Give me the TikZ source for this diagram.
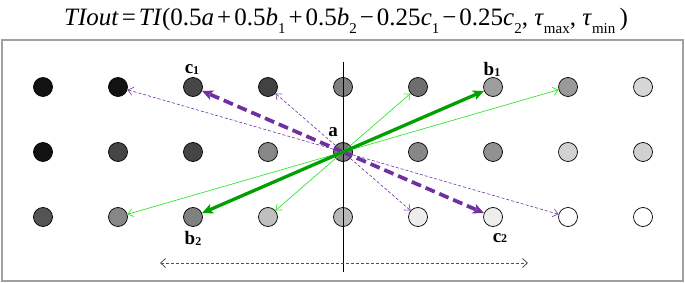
\documentclass[tikz,border=0pt]{standalone}
\usepackage{fontspec}
\setmainfont{Liberation Serif}
\usetikzlibrary{arrows.meta}
\definecolor{gthick}{RGB}{0,160,0}
\definecolor{gthin}{RGB}{50,230,50}
\definecolor{purp}{RGB}{112,48,160}
\definecolor{framegray}{RGB}{160,160,160}
\definecolor{axgray}{RGB}{80,80,80}
\newcommand\sbs[1]{\raisebox{-0.3em}{\fontsize{15}{15}\selectfont #1}}
\newcommand\lsb[1]{\raisebox{-0.05em}{\fontsize{12}{12}\selectfont\bfseries #1}}
\newcommand\opsp{\hspace{0.12em}}
\tikzset{
  dot/.style={circle, draw=black, line width=0.7pt, minimum size=19pt, inner sep=0pt, fill=black!#1},
  lbl/.style={font=\fontsize{19}{21}\selectfont\bfseries, inner sep=0pt},
  gbig/.style={draw=gthick, line width=3.3pt, -{Stealth[length=11pt,width=10pt,inset=3pt]}},
  gsmall/.style={draw=gthin, line width=0.7pt, -{Straight Barb[length=5pt,width=8pt]}},
  pbig/.style={draw=purp, line width=3.7pt, dash pattern=on 10pt off 5pt, -{Stealth[length=11pt,width=10pt,inset=3pt]}},
  psmall/.style={draw=purp, line width=0.6pt, dash pattern=on 3pt off 2pt, -{Straight Barb[length=5pt,width=8pt]}},
  axis/.style={draw=axgray, line width=0.8pt, dash pattern=on 3pt off 2pt, {Straight Barb[length=5pt,width=9pt]}-{Straight Barb[length=5pt,width=9pt]}}
}
\begin{document}
\begin{tikzpicture}[x=1pt,y=-1pt]
\useasboundingbox (0,0) rectangle (685,283);
\draw[framegray, line width=1.5pt] (2,40) rectangle (683,281);
\node[font=\fontsize{25}{29}\selectfont, inner sep=0pt, anchor=base] (eq) at (346,26)
 {\textit{TIout}\opsp=\opsp\textit{TI}(0.5\textit{a}\opsp+\opsp0.5\textit{b}\sbs{1}\opsp+\opsp0.5\textit{b}\sbs{2}\opsp−\opsp0.25\textit{c}\sbs{1}\opsp−\opsp0.25\textit{c}\sbs{2}, \textit{τ}\sbs{max}, \textit{τ}\sbs{min}\,)};
% vertical line
\coordinate (vtop) at (343,62);
\coordinate (vbot) at (343,272);
% row 1
\node[dot=93] (n11) at (43,87) {};
\node[dot=93] (n12) at (118,87) {};
\node[dot=72] (n13) at (193,87) {};
\node[dot=74] (n14) at (268,87) {};
\node[dot=50] (n15) at (343,87) {};
\node[dot=57] (n16) at (418,87) {};
\node[dot=38] (n17) at (493,87) {};
\node[dot=40] (n18) at (568,87) {};
\node[dot=16] (n19) at (643,87) {};
% row 2
\node[dot=93] (n21) at (43,152) {};
\node[dot=73] (n22) at (118,152) {};
\node[dot=73] (n23) at (193,152) {};
\node[dot=47] (n24) at (268,152) {};
\node[dot=53] (a) at (343,152) {};
\node[dot=47] (n26) at (418,152) {};
\node[dot=43] (n27) at (493,152) {};
\node[dot=18] (n28) at (568,152) {};
\node[dot=18] (n29) at (643,152) {};
% row 3
\node[dot=67] (n31) at (43,217) {};
\node[dot=47] (n32) at (118,217) {};
\node[dot=50] (n33) at (193,217) {};
\node[dot=25] (n34) at (268,217) {};
\node[dot=28] (n35) at (343,217) {};
\node[dot=7] (n36) at (418,217) {};
\node[dot=7] (n37) at (493,217) {};
\node[dot=0] (n38) at (568,217) {};
\node[dot=0] (n39) at (643,217) {};
\draw[black, line width=0.8pt] (vtop) -- (vbot);
% labels
\node[lbl] (lc1) at (192,70) {c\lsb{1}};
\node[lbl] (lb1) at (492,69) {b\lsb{1}};
\node[lbl] (la) at (333,132) {a};
\node[lbl] (lb2) at (193,238) {b\lsb{2}};
\node[lbl] (lc2) at (500,238) {c\lsb{2}};
% thin arrows
\draw[gsmall] (a.center) -- (n32);
\draw[gsmall] (a.center) -- (n34);
\draw[gsmall] (a.center) -- (n16);
\draw[gsmall] (a.center) -- (n18);
\draw[psmall] (a.center) -- (n12);
\draw[psmall] (a.center) -- (n14);
\draw[psmall] (a.center) -- (n36);
\draw[psmall] (a.center) -- (n38);
% thick arrows
\draw[pbig] (a.center) -- (n13);
\draw[pbig] (a.center) -- (n37);
\draw[gbig] (a.center) -- (n33);
\draw[gbig] (a.center) -- (n17);
% horizontal axis
\coordinate (hl) at (160,263);
\coordinate (hr) at (528,263);
\draw[axis] (hl) -- (hr);
\end{tikzpicture}
\end{document}
